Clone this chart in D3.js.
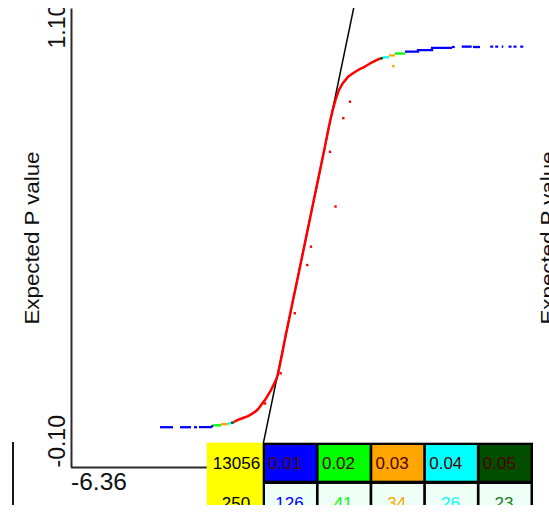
<!DOCTYPE html>
<html>
<head>
<meta charset="utf-8">
<script src="https://cdn.jsdelivr.net/npm/d3@7"></script>
<style>
  body { margin: 0; background: #fff; }
  svg { display: block; font-family: "Liberation Sans", Arial, sans-serif; }
</style>
</head>
<body>
<svg id="chart" width="549" height="512"></svg>
<script>
// axis end values
const xTicks = [-6.36];
const yTicks = [-0.1, 1.1];
const yLabel = "Expected P value";

// main body of the curve (non significant tests)
const redCurve = [
  [-1.839, 0.018], [-1.728, 0.023], [-1.590, 0.028], [-1.452, 0.033], [-1.341, 0.039],
  [-1.231, 0.046], [-1.148, 0.054], [-1.065, 0.065], [-0.982, 0.075], [-0.899, 0.088],
  [-0.816, 0.101], [-0.747, 0.114], [-0.680, 0.127], [-0.628, 0.141], [-0.570, 0.167],
  [-0.515, 0.193], [-0.461, 0.219], [-0.407, 0.245], [-0.321, 0.284], [-0.205, 0.337],
  [-0.089, 0.389], [0.025, 0.441], [0.138, 0.493], [0.254, 0.546], [0.368, 0.598],
  [0.484, 0.650], [0.600, 0.703], [0.685, 0.742], [0.766, 0.781], [0.826, 0.807],
  [0.890, 0.833], [0.968, 0.860], [1.065, 0.886], [1.175, 0.904], [1.314, 0.920],
  [1.460, 0.930], [1.598, 0.938], [1.784, 0.947], [1.922, 0.955], [2.060, 0.962],
  [2.199, 0.968]
];

// stray points off the curve
const redOutX = [-0.982, -0.548, -0.158, 0.188, 0.290, 0.968, 0.816, 1.184, 1.369];
const redOutY = [0.066, 0.145, 0.302, 0.428, 0.476, 0.581, 0.724, 0.812, 0.855];
const orangeOutX = [2.566];
const orangeOutY = [0.948];

// tails, one list of runs per threshold class
const blueRuns = [
  [[-3.886, 0.004], [-3.526, 0.004]],
  [[-3.332, 0.004], [-3.028, 0.004]],
  [[-2.945, 0.004], [-2.862, 0.004]],
  [[-2.807, 0.004], [-2.475, 0.004], [-2.420, 0.009]],
  [[2.890, 0.986], [3.249, 0.986], [3.249, 0.990], [3.637, 0.990], [3.637, 0.996], [4.190, 0.996]],
  [[4.458, 0.999], [4.735, 0.999]],
  [[4.770, 0.998], [4.964, 0.998]],
  [[5.564, 0.999], [5.608, 0.999]]
];
const blueDotsX = [4.226, 5.288, 5.426, 5.794, 5.932, 6.117];
const blueDotsY = [0.998, 0.999, 0.999, 0.999, 0.999, 0.999];
const greenRuns = [
  [[-2.420, 0.009], [-2.199, 0.009]],
  [[2.613, 0.981], [2.890, 0.981]]
];
const orangeRuns = [
  [[-2.199, 0.012], [-2.005, 0.012]],
  [[2.447, 0.976], [2.613, 0.976]]
];
const cyanRuns = [
  [[-2.005, 0.014], [-1.922, 0.014]],
  [[2.282, 0.971], [2.447, 0.971]]
];
const darkRuns = [
  [[-1.922, 0.016], [-1.839, 0.016]],
  [[2.199, 0.968], [2.282, 0.969]]
];

// diagonal reference line
const refLine = [[-1.186, -0.11], [1.546, 1.134]];

// summary table
const thresholds = ["0.01", "0.02", "0.03", "0.04", "0.05"];
const sigCounts = [126, 41, 34, 26, 23];
const totalTests = 13056;
const totalSig = 250;

const classColors = ["#0000ff", "#00ff00", "#ffa500", "#00ffff", "#004d00"];
const countColors = ["#0000ff", "#00ff00", "#ffa500", "#00ffff", "#1f7a1f"];

const svg = d3.select("#chart");
svg.append("defs").append("clipPath").attr("id", "frame")
  .append("rect").attr("x", 0).attr("y", 8).attr("width", 549).attr("height", 497);
const g = svg.append("g").attr("clip-path", "url(#frame)");

const x = d3.scaleLinear().domain([-6.36, 6.36]).range([70.5, 530.5]);
const y = d3.scaleLinear().domain([-0.1, 1.1]).range([467, 8]);

// y axis, labels written along the axis
const yAxis = g.append("g")
  .attr("transform", "translate(71,0)")
  .call(d3.axisLeft(y).tickValues(yTicks).tickSize(0).tickSizeOuter(0).tickFormat(d => d.toFixed(2)));
yAxis.attr("font-family", null).attr("font-size", null);
yAxis.select(".domain").attr("stroke", "#2a2a2a").attr("stroke-width", 2);
yAxis.selectAll(".tick text")
  .attr("transform", "rotate(-90)")
  .attr("text-anchor", "start")
  .attr("x", d => d === yTicks[0] ? 0 : -40)
  .attr("y", -6)
  .attr("dy", 0)
  .attr("fill", "#111")
  .style("font-size", "23px");

// x axis
const xAxis = g.append("g")
  .attr("transform", "translate(0,467)")
  .call(d3.axisBottom(x).tickValues(xTicks).tickSize(0).tickSizeOuter(0).tickFormat(d => d.toFixed(2)));
xAxis.attr("font-family", null).attr("font-size", null);
xAxis.select(".domain").attr("stroke", "#2a2a2a").attr("stroke-width", 2);
xAxis.selectAll(".tick text")
  .attr("text-anchor", "start")
  .attr("y", 23)
  .attr("dy", 0)
  .attr("fill", "#111")
  .attr("textLength", 56)
  .attr("lengthAdjust", "spacingAndGlyphs")
  .style("font-size", "23px");

// axis titles (this panel and the cut one on the right)
[39, 555].forEach(px => {
  g.append("text")
    .attr("transform", "translate(" + px + ",238) rotate(-90)")
    .attr("text-anchor", "middle")
    .attr("fill", "#111")
    .attr("textLength", 173)
    .attr("lengthAdjust", "spacingAndGlyphs")
    .style("font-size", "21px")
    .text(yLabel);
});

const line = d3.line().x(d => x(d[0])).y(d => y(d[1]));

g.append("path")
  .datum(refLine)
  .attr("d", line)
  .attr("fill", "none")
  .attr("stroke", "#000")
  .attr("stroke-width", 1.5);

// tails
[blueRuns, greenRuns, orangeRuns, cyanRuns, darkRuns].forEach((runs, i) => {
  g.selectAll(null)
    .data(runs)
    .enter().append("path")
    .attr("d", line)
    .attr("fill", "none")
    .attr("stroke", classColors[i])
    .attr("stroke-width", 2.3);
});

g.selectAll(null)
  .data(blueDotsX)
  .enter().append("rect")
  .attr("x", d => x(d) - 1.5)
  .attr("y", (d, i) => y(blueDotsY[i]) - 1.1)
  .attr("width", 3)
  .attr("height", 2.2)
  .attr("fill", classColors[0]);

g.append("path")
  .datum(redCurve)
  .attr("d", line)
  .attr("fill", "none")
  .attr("stroke", "#ff0000")
  .attr("stroke-width", 2.5)
  .attr("stroke-linejoin", "round");

g.selectAll(null)
  .data(redOutX)
  .enter().append("rect")
  .attr("x", d => x(d) - 1.2)
  .attr("y", (d, i) => y(redOutY[i]) - 1.2)
  .attr("width", 2.4)
  .attr("height", 2.4)
  .attr("fill", "#ff0000");

g.selectAll(null)
  .data(orangeOutX)
  .enter().append("rect")
  .attr("x", d => x(d) - 1.2)
  .attr("y", (d, i) => y(orangeOutY[i]) - 1.2)
  .attr("width", 2.4)
  .attr("height", 2.4)
  .attr("fill", classColors[2]);

// left edge of the neighbouring panel's table
g.append("line")
  .attr("x1", 13).attr("x2", 13)
  .attr("y1", 442).attr("y2", 512)
  .attr("stroke", "#000")
  .attr("stroke-width", 1.8);

// table
const col = d3.scaleBand().domain(thresholds).range([265, 530.5]).paddingInner(0.05);
const table = g.append("g").style("font-size", "17px");

table.append("rect")
  .attr("x", 206.7).attr("y", 442.7)
  .attr("width", 56.3).attr("height", 70)
  .attr("fill", "#ffff00");
table.append("rect")
  .attr("x", 262.7).attr("y", 442.7)
  .attr("width", 270.3).attr("height", 70)
  .attr("fill", "#000");

table.selectAll(".head")
  .data(thresholds)
  .enter().append("rect")
  .attr("class", "head")
  .attr("x", d => col(d))
  .attr("y", 445)
  .attr("width", col.bandwidth())
  .attr("height", 35.7)
  .attr("fill", (d, i) => classColors[i]);

table.selectAll(".body")
  .data(thresholds)
  .enter().append("rect")
  .attr("class", "body")
  .attr("x", d => col(d))
  .attr("y", 484)
  .attr("width", col.bandwidth())
  .attr("height", 30)
  .attr("fill", "#eefff7");

table.selectAll(".headText")
  .data(thresholds)
  .enter().append("text")
  .attr("class", "headText")
  .attr("x", d => col(d) + 3.3)
  .attr("y", 469.3)
  .attr("fill", "#500000")
  .text(d => d);

table.selectAll(".countText")
  .data(sigCounts)
  .enter().append("text")
  .attr("class", "countText")
  .attr("x", (d, i) => col(thresholds[i]) + col.bandwidth() / 2 - 1)
  .attr("y", 508.5)
  .attr("text-anchor", "middle")
  .attr("fill", (d, i) => countColors[i])
  .text(d => d);

table.append("text")
  .attr("x", 236.5).attr("y", 469.3)
  .attr("text-anchor", "middle")
  .attr("fill", "#000")
  .text(totalTests);
table.append("text")
  .attr("x", 236).attr("y", 508.5)
  .attr("text-anchor", "middle")
  .attr("fill", "#000")
  .text(totalSig);
</script>
</body>
</html>
